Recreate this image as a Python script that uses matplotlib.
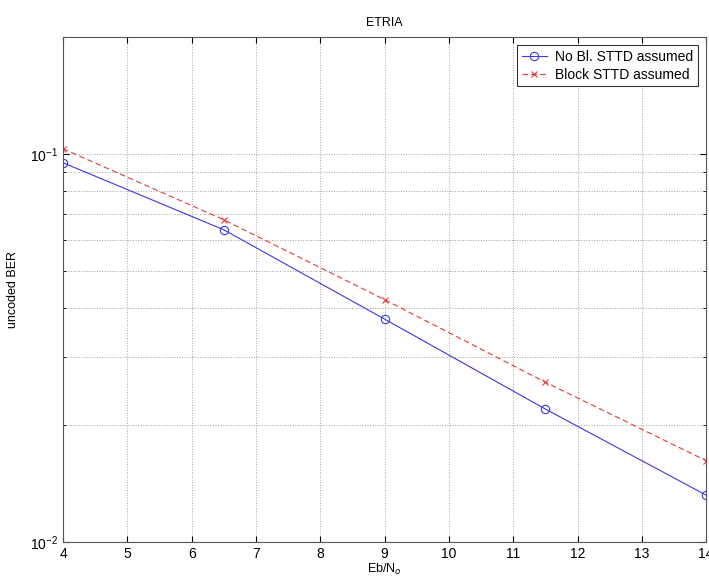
import matplotlib
matplotlib.use("Agg")
import matplotlib.pyplot as plt
from matplotlib.ticker import LogLocator, FixedLocator, NullFormatter

plt.rcParams['font.family'] = ['Liberation Sans', 'DejaVu Sans']

ebno = [4, 6.5, 9, 11.5, 14]
ber_no_bl = [0.0948, 0.0637, 0.0375, 0.0220, 0.0132]
ber_block = [0.103, 0.0676, 0.0421, 0.0258, 0.0162]
xticks = [4, 5, 6, 7, 8, 9, 10, 11, 12, 13, 14]

fig = plt.figure(figsize=(7.09, 5.77), dpi=100)
ax = fig.add_axes([0.089, 0.0607, 0.907, 0.8753])

ax.semilogy(ebno, ber_no_bl, color='#3a3ae0', linestyle='-', linewidth=0.8,
            marker='o', markersize=6, markerfacecolor='none', markeredgewidth=0.8,
            label='No Bl. STTD assumed')
ax.semilogy(ebno, ber_block, color='#e03a3a', linestyle=(0, (5, 3)), linewidth=0.8,
            marker='x', markersize=5, markeredgewidth=0.8,
            label='Block STTD assumed')

ax.set_xlim(4, 14)
ax.set_ylim(0.01, 0.2)
ax.set_xticks(xticks)
ax.yaxis.set_major_locator(FixedLocator([0.01, 0.1]))
ax.yaxis.set_minor_locator(LogLocator(base=10, subs=range(2, 10)))
ax.yaxis.set_minor_formatter(NullFormatter())

ax.grid(True, which='major', linestyle=':', color='#a0a0a0', linewidth=0.7)
ax.grid(True, which='minor', axis='y', linestyle=':', color='#a0a0a0', linewidth=0.7)
ax.tick_params(which='both', direction='in', top=True, right=True, labelsize=10)
ax.tick_params(which='major', length=4)
ax.tick_params(which='minor', length=2)
for s in ax.spines.values():
    s.set_linewidth(0.8)
    s.set_color('#555555')

ax.set_title('ETRIA', fontsize=9, pad=8)
ax.set_xlabel('Eb/N$_o$', fontsize=9, labelpad=1)
ax.set_ylabel('uncoded BER', fontsize=9, labelpad=8)

leg = ax.legend(loc='upper right', fontsize=10, frameon=True, fancybox=False,
                edgecolor='#333333', framealpha=1, borderpad=0.35, labelspacing=0.25,
                handlelength=1.8, handletextpad=0.6, borderaxespad=0.6)
leg.get_frame().set_linewidth(0.8)

fig.savefig('out.png', dpi=100)
